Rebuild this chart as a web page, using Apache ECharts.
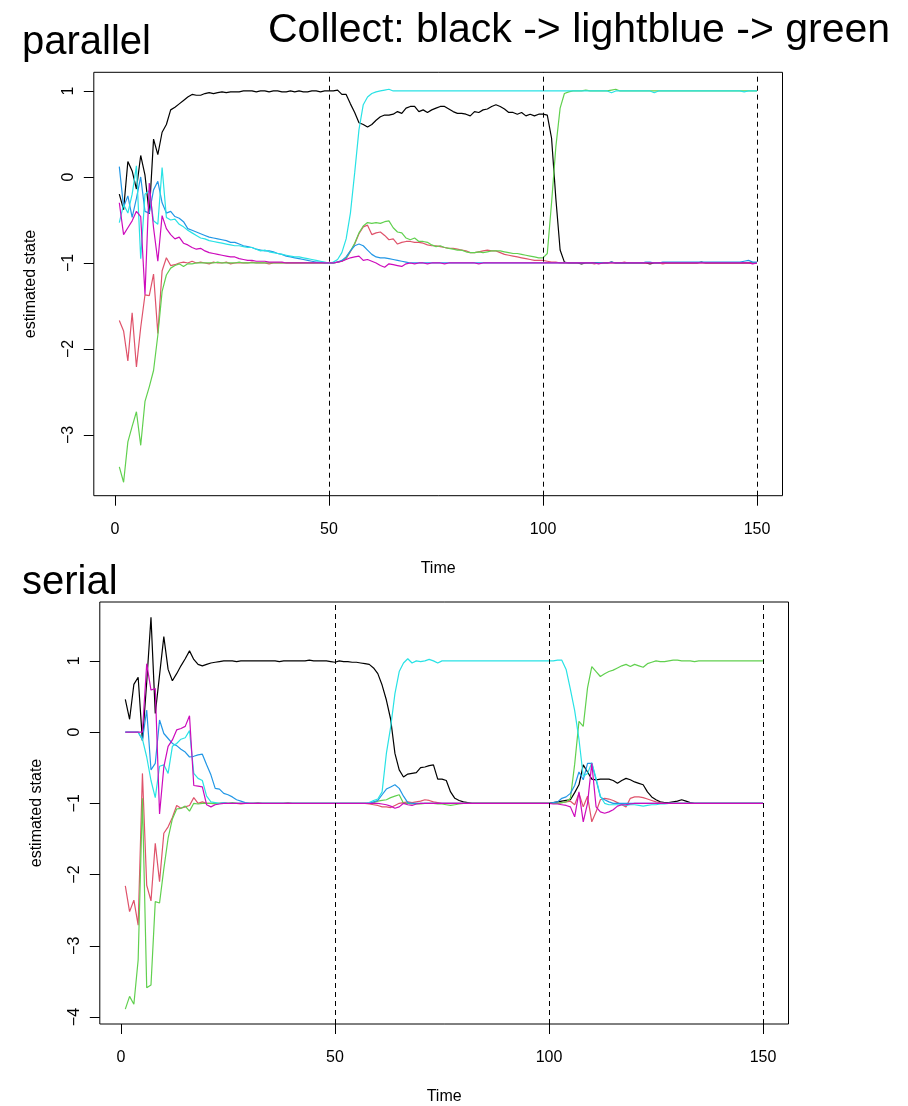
<!DOCTYPE html>
<html>
<head>
<meta charset="utf-8">
<title>estimated state</title>
<script src="https://cdn.jsdelivr.net/npm/echarts@6/dist/echarts.min.js"></script>
<style>
  html, body { margin: 0; padding: 0; background: #ffffff; }
  #chart { width: 908px; height: 1106px; }
</style>
</head>
<body>
<div id="chart"></div>
<script>
// Time index 1..150 shared by both panels
const timeSteps = [];
for (let t = 1; t <= 150; t++) timeSteps.push(t);

const phaseBreaks = [50, 100, 150];
const xTicks = [0, 50, 100, 150];
const yTicksParallel = [-3, -2, -1, 0, 1];
const yTicksSerial = [-4, -3, -2, -1, 0, 1];

const seriesColors = ['#000000', '#DF536B', '#61D04F', '#2297E6', '#28E2E5', '#CD0BBC'];

// ---- parallel collection ----
const parBlack = [
 -0.20,-0.38,0.18,0.07,-0.14,0.25,0.02,-0.43,0.44,0.26,
 0.52,0.61,0.78,0.81,0.85,0.89,0.93,0.96,0.95,0.95,
 0.97,0.98,0.97,0.98,0.99,0.98,0.99,0.99,0.99,1.00,
 1.00,1.00,0.99,1.00,1.00,0.99,1.00,1.00,0.99,0.99,
 1.00,0.99,1.00,0.99,0.99,1.00,1.00,0.99,1.00,1.00,
 1.00,1.01,0.96,0.96,0.85,0.75,0.63,0.61,0.58,0.61,
 0.66,0.70,0.72,0.72,0.73,0.76,0.74,0.80,0.82,0.82,
 0.76,0.78,0.75,0.78,0.80,0.82,0.82,0.79,0.76,0.74,
 0.74,0.73,0.71,0.76,0.75,0.78,0.79,0.82,0.84,0.82,
 0.79,0.75,0.75,0.73,0.75,0.71,0.73,0.71,0.73,0.73,
 0.72,0.45,-0.25,-0.85,-0.99,-1.00,-1.00,-1.00,-1.01,-1.00,
 -1.00,-1.00,-1.00,-1.00,-1.00,-0.99,-1.00,-1.00,-1.00,-1.00,
 -1.00,-1.00,-1.00,-1.00,-1.01,-1.00,-1.00,-1.00,-1.00,-1.00,
 -1.00,-1.00,-1.00,-1.00,-1.00,-1.00,-0.99,-1.00,-1.00,-1.00,
 -1.00,-1.00,-1.00,-1.00,-1.00,-1.00,-1.00,-1.00,-1.00,-1.00
];
const parRed = [
 -1.67,-1.79,-2.14,-1.58,-2.21,-1.75,-1.37,-1.38,-1.13,-1.82,
 -1.09,-0.94,-1.03,-1.02,-1.00,-0.99,-1.00,-0.98,-1.00,-0.99,
 -1.00,-1.01,-0.99,-1.00,-1.00,-0.99,-1.01,-1.00,-1.00,-1.00,
 -1.00,-0.99,-1.00,-1.00,-1.00,-1.01,-1.00,-1.00,-1.00,-1.00,
 -1.00,-1.00,-1.00,-1.00,-1.00,-1.00,-1.00,-1.00,-1.00,-1.00,
 -1.00,-0.99,-0.98,-0.95,-0.87,-0.78,-0.66,-0.58,-0.56,-0.67,
 -0.65,-0.64,-0.68,-0.73,-0.72,-0.78,-0.76,-0.75,-0.75,-0.76,
 -0.76,-0.77,-0.79,-0.80,-0.80,-0.81,-0.82,-0.83,-0.83,-0.84,
 -0.85,-0.86,-0.88,-0.88,-0.87,-0.86,-0.85,-0.86,-0.86,-0.88,
 -0.90,-0.91,-0.92,-0.93,-0.94,-0.95,-0.96,-0.97,-0.97,-0.97,
 -0.98,-0.99,-0.99,-1.00,-1.00,-1.00,-1.00,-1.00,-1.00,-1.00,
 -1.00,-1.01,-1.00,-1.00,-1.00,-1.00,-1.00,-1.00,-0.99,-1.00,
 -1.00,-1.00,-1.00,-1.00,-1.00,-1.00,-1.00,-1.01,-1.00,-1.00,
 -1.00,-1.00,-1.00,-1.00,-1.00,-1.00,-1.00,-1.00,-1.00,-1.00,
 -1.00,-1.00,-1.00,-1.00,-1.00,-1.00,-1.00,-1.00,-1.00,-1.00
];
const parGreen = [
 -3.37,-3.55,-3.08,-2.90,-2.73,-3.12,-2.61,-2.44,-2.25,-1.84,
 -1.33,-1.14,-1.06,-1.03,-1.01,-1.04,-1.01,-1.01,-1.00,-1.00,
 -1.00,-1.00,-1.00,-0.99,-1.00,-1.00,-1.00,-1.00,-0.99,-1.00,
 -1.00,-1.00,-1.00,-1.00,-1.00,-1.00,-1.00,-1.00,-1.00,-1.00,
 -1.00,-1.00,-1.00,-1.00,-1.00,-1.00,-1.00,-1.00,-1.00,-1.00,
 -1.00,-0.99,-0.98,-0.94,-0.86,-0.77,-0.65,-0.57,-0.53,-0.54,
 -0.53,-0.54,-0.52,-0.51,-0.59,-0.64,-0.65,-0.71,-0.73,-0.71,
 -0.75,-0.75,-0.76,-0.79,-0.81,-0.80,-0.82,-0.83,-0.84,-0.85,
 -0.85,-0.87,-0.88,-0.88,-0.87,-0.88,-0.87,-0.86,-0.86,-0.86,
 -0.87,-0.88,-0.89,-0.89,-0.90,-0.91,-0.92,-0.93,-0.94,-0.94,
 -0.89,-0.30,0.35,0.80,0.97,0.99,1.00,1.00,1.00,1.01,
 1.00,1.00,1.00,1.00,1.00,1.01,1.02,1.00,1.00,1.00,
 1.00,1.00,1.00,1.00,1.00,1.00,1.00,1.00,1.00,1.00,
 1.00,1.00,1.00,1.00,1.00,1.00,1.00,1.00,1.00,1.00,
 1.00,1.00,1.00,1.00,1.00,1.00,1.00,1.00,1.00,1.00
];
const parBlue = [
 0.12,-0.35,-0.22,-0.47,-0.25,0.00,-0.40,-0.42,-0.15,-0.05,
 -0.30,-0.42,-0.40,-0.46,-0.48,-0.52,-0.60,-0.62,-0.64,-0.66,
 -0.68,-0.70,-0.71,-0.72,-0.73,-0.74,-0.76,-0.76,-0.78,-0.80,
 -0.81,-0.82,-0.84,-0.85,-0.86,-0.86,-0.87,-0.89,-0.90,-0.92,
 -0.93,-0.94,-0.95,-0.96,-0.97,-0.98,-0.99,-0.99,-1.00,-1.00,
 -1.00,-0.99,-0.97,-0.93,-0.86,-0.80,-0.78,-0.80,-0.85,-0.90,
 -0.93,-0.94,-0.94,-0.95,-0.96,-0.97,-0.98,-0.99,-1.00,-1.00,
 -1.00,-1.00,-1.00,-1.00,-1.00,-1.00,-1.00,-1.00,-1.00,-1.00,
 -1.00,-1.00,-1.00,-1.00,-1.00,-1.00,-1.00,-1.00,-1.00,-1.00,
 -1.00,-1.00,-1.00,-1.00,-1.00,-1.00,-1.00,-1.00,-1.00,-1.00,
 -1.00,-1.00,-1.00,-1.00,-1.00,-1.00,-1.00,-1.00,-1.00,-1.00,
 -1.00,-1.00,-1.00,-1.00,-1.00,-0.99,-1.00,-1.00,-1.00,-1.00,
 -1.00,-1.00,-1.00,-0.99,-0.99,-1.00,-1.00,-0.99,-0.99,-0.99,
 -0.99,-0.99,-0.99,-0.99,-0.99,-0.99,-0.99,-0.99,-0.99,-0.99,
 -0.99,-0.99,-0.99,-0.99,-0.99,-0.99,-0.98,-0.97,-0.99,-0.99
];
const parCyan = [
 -0.53,-0.32,-0.42,-0.20,0.13,-0.95,-0.20,-0.16,-0.51,-0.55,
 0.11,-0.47,-0.50,-0.49,-0.55,-0.58,-0.62,-0.65,-0.68,-0.71,
 -0.72,-0.74,-0.75,-0.76,-0.77,-0.78,-0.79,-0.80,-0.80,-0.81,
 -0.82,-0.82,-0.84,-0.86,-0.85,-0.87,-0.88,-0.89,-0.90,-0.91,
 -0.92,-0.93,-0.93,-0.94,-0.95,-0.96,-0.97,-0.98,-0.99,-1.00,
 -0.99,-0.96,-0.88,-0.72,-0.42,0.05,0.55,0.84,0.93,0.97,
 0.99,1.00,1.01,1.02,1.00,1.00,1.00,1.00,1.00,1.00,
 1.00,1.00,1.00,1.00,1.00,1.00,1.00,1.00,1.00,1.00,
 1.00,1.00,1.00,1.00,1.00,1.00,1.00,1.00,1.00,1.00,
 1.00,1.00,1.00,1.00,1.00,1.00,1.00,1.00,1.00,1.00,
 1.00,1.00,1.00,1.00,1.00,1.00,1.00,1.00,1.00,1.00,
 1.00,1.00,1.00,1.00,1.00,0.98,1.00,1.00,1.00,1.00,
 1.00,1.00,1.00,1.00,1.00,0.98,1.00,1.00,1.00,1.00,
 1.00,1.00,1.00,1.00,1.00,1.00,1.00,1.00,1.00,1.00,
 1.00,1.00,1.00,1.00,1.00,1.00,0.99,1.00,1.00,1.00
];
const parMagenta = [
 -0.30,-0.67,-0.59,-0.51,-0.40,-0.46,-1.37,-0.07,-0.59,-0.98,
 -0.45,-0.60,-0.67,-0.72,-0.70,-0.77,-0.79,-0.82,-0.84,-0.83,
 -0.86,-0.88,-0.89,-0.90,-0.91,-0.92,-0.93,-0.93,-0.95,-0.96,
 -0.97,-0.97,-0.98,-0.98,-0.98,-0.99,-0.99,-0.99,-0.99,-1.00,
 -1.00,-1.00,-1.00,-1.00,-1.00,-1.00,-1.00,-1.00,-1.00,-1.00,
 -1.00,-0.99,-0.98,-0.96,-0.94,-0.93,-0.92,-0.97,-0.96,-0.98,
 -1.00,-1.03,-1.05,-1.01,-1.02,-1.03,-1.04,-1.01,-1.00,-1.01,
 -1.00,-1.00,-1.01,-1.00,-1.00,-1.00,-1.01,-1.00,-1.00,-1.00,
 -1.00,-1.00,-1.00,-1.00,-1.01,-1.00,-1.00,-1.00,-1.00,-1.00,
 -1.00,-1.00,-1.00,-1.00,-1.00,-1.00,-1.00,-1.00,-1.00,-1.00,
 -1.00,-1.00,-1.00,-1.00,-1.00,-1.00,-1.00,-1.00,-1.00,-1.00,
 -1.00,-1.00,-1.01,-1.00,-1.00,-1.00,-1.00,-1.00,-1.00,-1.00,
 -1.00,-1.00,-1.00,-1.00,-1.00,-1.00,-1.00,-1.00,-1.00,-1.00,
 -1.00,-1.00,-1.00,-1.00,-1.00,-1.00,-1.00,-1.00,-1.00,-1.00,
 -1.00,-1.00,-1.00,-1.00,-1.00,-1.00,-1.00,-1.00,-1.01,-1.00
];

// ---- serial collection ----
const serBlack = [
 0.46,0.18,0.67,0.77,-0.12,0.70,1.61,0.26,0.80,1.34,
 0.88,0.72,0.82,0.93,1.03,1.14,1.02,0.95,0.93,0.95,
 0.97,0.98,0.99,1.00,1.00,1.00,0.99,1.00,1.00,1.00,
 1.00,1.00,1.00,1.00,1.00,1.00,0.99,1.00,1.00,1.00,
 1.00,1.00,1.00,1.01,1.00,1.00,1.00,1.00,0.99,0.98,
 1.00,0.99,0.99,0.98,0.98,0.97,0.96,0.95,0.90,0.82,
 0.66,0.45,0.18,-0.30,-0.53,-0.63,-0.59,-0.58,-0.57,-0.50,
 -0.49,-0.47,-0.46,-0.66,-0.66,-0.68,-0.84,-0.93,-0.96,-0.98,
 -0.99,-1.00,-1.00,-1.00,-1.00,-1.00,-1.00,-1.00,-1.00,-1.00,
 -1.00,-1.00,-1.00,-1.00,-1.00,-1.00,-1.00,-1.00,-1.00,-1.00,
 -0.99,-0.98,-0.97,-0.96,-0.95,-0.85,-0.74,-0.46,-0.56,-0.66,
 -0.67,-0.66,-0.66,-0.66,-0.68,-0.72,-0.68,-0.65,-0.67,-0.70,
 -0.72,-0.74,-0.84,-0.91,-0.95,-0.98,-0.99,-0.99,-0.98,-0.97,
 -0.95,-0.97,-0.99,-1.00,-1.00,-1.00,-1.00,-1.00,-1.00,-1.00,
 -1.00,-1.00,-1.00,-1.00,-1.00,-1.00,-1.00,-1.00,-1.00,-1.00
];
const serRed = [
 -2.16,-2.52,-2.36,-2.71,-0.58,-2.15,-2.37,-1.56,-2.10,-1.42,
 -1.33,-1.20,-1.03,-1.07,-1.05,-1.03,-0.92,-1.00,-0.98,-1.00,
 -1.00,-1.01,-1.00,-0.99,-1.00,-1.00,-1.00,-1.01,-1.00,-1.00,
 -1.00,-0.99,-1.00,-1.00,-1.00,-1.00,-1.00,-1.00,-0.99,-1.00,
 -1.00,-1.00,-1.00,-1.00,-1.00,-1.00,-1.00,-1.00,-1.00,-1.00,
 -1.00,-1.00,-1.00,-1.00,-1.00,-1.00,-1.00,-1.01,-1.02,-1.03,
 -1.05,-1.05,-1.06,-1.03,-1.00,-0.99,-0.98,-0.99,-0.98,-0.97,
 -0.95,-0.96,-0.98,-0.99,-1.00,-1.00,-1.00,-1.00,-1.00,-1.00,
 -1.00,-1.00,-1.00,-1.00,-1.00,-1.00,-1.00,-1.00,-1.00,-1.00,
 -1.00,-1.00,-1.00,-1.00,-1.00,-1.00,-1.00,-1.00,-1.00,-1.00,
 -1.00,-1.00,-0.99,-0.98,-0.97,-1.02,-0.86,-1.05,-0.90,-1.26,
 -1.12,-0.95,-0.93,-0.94,-0.96,-0.99,-1.02,-1.05,-0.93,-0.91,
 -0.91,-0.92,-0.94,-0.96,-0.98,-0.99,-1.00,-1.00,-1.00,-1.00,
 -1.00,-1.00,-1.00,-1.00,-1.00,-1.00,-1.00,-1.00,-1.00,-1.00,
 -1.00,-1.00,-1.00,-1.00,-1.00,-1.00,-1.00,-1.00,-1.00,-1.00
];
const serGreen = [
 -3.89,-3.71,-3.82,-3.20,-0.93,-3.59,-3.55,-2.38,-2.40,-1.92,
 -1.49,-1.22,-1.08,-1.07,-1.04,-1.11,-1.00,-1.01,-1.00,-1.00,
 -1.00,-1.00,-1.00,-1.00,-1.00,-0.99,-1.00,-1.00,-1.00,-1.00,
 -1.00,-1.00,-1.00,-1.00,-1.00,-1.00,-1.00,-1.00,-1.00,-1.00,
 -1.00,-1.00,-1.00,-1.00,-1.00,-1.00,-1.00,-1.00,-1.00,-1.00,
 -1.00,-1.00,-1.00,-1.00,-1.00,-1.00,-1.00,-1.00,-0.99,-0.97,
 -0.96,-0.95,-0.92,-0.90,-0.88,-1.00,-1.00,-1.01,-1.01,-1.01,
 -1.00,-1.00,-1.00,-1.01,-1.01,-1.02,-1.03,-1.02,-1.01,-1.00,
 -1.00,-1.00,-1.00,-1.00,-1.00,-1.00,-1.00,-1.00,-1.00,-1.00,
 -1.00,-1.00,-1.00,-1.00,-1.00,-1.00,-1.00,-1.00,-1.00,-1.00,
 -1.00,-1.00,-0.99,-0.98,-0.93,-0.45,0.15,0.08,0.62,0.92,
 0.85,0.78,0.82,0.85,0.87,0.90,0.93,0.95,0.92,0.95,
 0.93,0.91,0.96,0.98,1.00,0.99,0.99,1.00,1.01,1.01,
 1.00,1.00,1.00,0.99,1.00,1.00,1.00,1.00,1.00,1.00,
 1.00,1.00,1.00,1.00,1.00,1.00,1.00,1.00,1.00,1.00
];
const serBlue = [
 0.00,0.00,0.00,0.00,-0.11,0.31,-0.53,-0.44,0.17,-0.02,
 -0.09,-0.16,-0.19,-0.24,-0.28,-0.35,-0.34,-0.32,-0.31,-0.46,
 -0.60,-0.79,-0.80,-0.86,-0.88,-0.91,-0.95,-0.97,-0.99,-1.00,
 -1.00,-1.00,-1.00,-1.00,-1.00,-1.00,-1.00,-1.00,-1.00,-1.00,
 -1.00,-1.00,-1.00,-1.00,-1.00,-1.00,-1.00,-1.00,-1.00,-1.00,
 -1.00,-1.00,-1.00,-1.00,-1.00,-1.00,-1.00,-1.00,-0.98,-0.96,
 -0.88,-0.80,-0.77,-0.74,-0.79,-0.90,-0.99,-1.00,-1.00,-1.00,
 -1.00,-1.00,-1.00,-1.00,-1.00,-1.00,-1.00,-1.00,-1.00,-1.00,
 -1.00,-1.00,-1.00,-1.00,-1.00,-1.00,-1.00,-1.00,-1.00,-1.00,
 -1.00,-1.00,-1.00,-1.00,-1.00,-1.00,-1.00,-1.00,-1.00,-1.00,
 -0.99,-0.98,-0.93,-0.91,-0.86,-0.75,-0.56,-0.67,-0.44,-0.44,
 -0.67,-0.91,-0.95,-0.98,-1.00,-1.00,-1.00,-1.00,-1.00,-1.00,
 -1.00,-1.00,-1.00,-1.00,-1.00,-1.00,-1.00,-1.00,-1.00,-1.00,
 -1.00,-1.00,-1.00,-1.00,-1.00,-1.00,-1.00,-1.00,-1.00,-1.00,
 -1.00,-1.00,-1.00,-1.00,-1.00,-1.00,-1.00,-1.00,-1.00,-1.00
];
const serCyan = [
 0.00,0.00,0.00,0.00,-0.10,-0.35,-0.68,-0.92,-0.48,-0.46,
 -0.58,-0.20,-0.16,-0.10,-0.08,0.02,-0.58,-0.65,-0.68,-0.90,
 -0.98,-0.99,-1.00,-0.99,-1.00,-1.00,-1.00,-1.00,-1.00,-1.00,
 -1.00,-1.00,-1.00,-1.00,-1.00,-1.00,-1.00,-1.00,-1.00,-1.00,
 -1.00,-1.00,-1.00,-1.00,-1.00,-1.00,-1.00,-1.00,-1.00,-1.00,
 -1.00,-1.00,-1.00,-1.00,-1.00,-1.00,-1.00,-0.99,-0.96,-0.94,
 -0.84,-0.30,0.07,0.54,0.85,0.97,1.03,0.97,1.00,0.99,
 1.00,1.02,1.00,0.97,1.00,1.00,1.00,1.00,1.00,1.00,
 1.00,1.00,1.00,1.00,1.00,1.00,1.00,1.00,1.00,1.00,
 1.00,1.00,1.00,1.00,1.00,1.00,1.00,1.00,1.00,1.00,
 1.00,1.01,1.01,0.88,0.60,0.30,-0.10,-0.62,-0.58,-0.43,
 -0.65,-0.90,-1.00,-1.02,-1.02,-1.02,-1.02,-1.03,-1.02,-1.02,
 -1.03,-1.04,-1.03,-1.02,-1.02,-1.01,-1.01,-1.00,-1.00,-1.00,
 -1.00,-1.00,-1.00,-1.00,-1.00,-1.00,-1.00,-1.00,-1.00,-1.00,
 -1.00,-1.00,-1.00,-1.00,-1.00,-1.00,-1.00,-1.00,-1.00,-1.00
];
const serMagenta = [
 0.00,0.00,0.00,0.00,0.00,0.96,0.59,0.61,-1.15,-0.49,
 -0.20,-0.11,0.03,0.05,0.08,0.23,-0.75,-0.76,-0.77,-1.02,
 -1.05,-1.02,-1.01,-1.00,-1.00,-1.00,-1.00,-1.00,-1.00,-1.00,
 -1.00,-1.00,-1.00,-1.00,-1.00,-1.00,-1.00,-1.00,-1.00,-1.00,
 -1.00,-1.00,-1.00,-1.00,-1.00,-1.00,-1.00,-1.00,-1.00,-1.00,
 -1.00,-1.00,-1.00,-1.00,-1.00,-1.00,-1.00,-1.00,-1.00,-1.00,
 -1.01,-1.02,-1.04,-1.07,-1.05,-1.00,-1.02,-1.03,-1.01,-1.00,
 -1.00,-1.00,-1.00,-1.00,-1.00,-1.00,-1.00,-1.00,-1.00,-1.00,
 -1.00,-1.00,-1.00,-1.00,-1.00,-1.00,-1.00,-1.00,-1.00,-1.00,
 -1.00,-1.00,-1.00,-1.00,-1.00,-1.00,-1.00,-1.00,-1.00,-1.00,
 -1.01,-1.01,-1.02,-1.03,-1.05,-1.19,-0.84,-1.26,-1.00,-0.44,
 -1.05,-1.12,-1.14,-1.12,-1.09,-1.04,-1.02,-1.02,-1.01,-1.00,
 -1.00,-1.00,-1.00,-1.00,-1.00,-1.00,-1.00,-1.00,-1.00,-1.00,
 -1.00,-1.00,-1.00,-1.00,-1.00,-1.00,-1.00,-1.00,-1.00,-1.00,
 -1.00,-1.00,-1.00,-1.00,-1.00,-1.00,-1.00,-1.00,-1.00,-1.00
];

const parallelSet = [parBlack, parRed, parGreen, parBlue, parCyan, parMagenta];
const serialSet = [serBlack, serRed, serGreen, serBlue, serCyan, serMagenta];

const FONT = '"Liberation Sans", Arial, Helvetica, sans-serif';
const minusFmt = v => String(v).replace('-', '\u2212');

function xAxisFor(gridIndex) {
  return {
    type: 'value', gridIndex: gridIndex,
    min: -4.96, max: 155.96,
    name: 'Time', nameLocation: 'middle', nameGap: 65,
    nameTextStyle: { fontFamily: FONT, fontSize: 16, color: '#000' },
    axisLine: { show: false, onZero: false },
    axisTick: { show: true, inside: false, length: 10, customValues: xTicks,
                lineStyle: { color: '#000', width: 1 } },
    axisLabel: { show: true, customValues: xTicks, margin: 26,
                 fontFamily: FONT, fontSize: 16, color: '#000' },
    splitLine: { show: false }
  };
}

function yAxisFor(gridIndex, min, max, ticks) {
  return {
    type: 'value', gridIndex: gridIndex,
    min: min, max: max,
    name: 'estimated state', nameLocation: 'middle', nameRotate: 90, nameGap: 55,
    nameTextStyle: { fontFamily: FONT, fontSize: 16, color: '#000' },
    axisLine: { show: false, onZero: false },
    axisTick: { show: true, inside: false, length: 10, customValues: ticks,
                lineStyle: { color: '#000', width: 1 } },
    axisLabel: { show: true, customValues: ticks, rotate: 90, margin: 17,
                 align: 'center', verticalAlign: 'bottom',
                 fontFamily: FONT, fontSize: 16, color: '#000',
                 formatter: minusFmt },
    splitLine: { show: false }
  };
}

function buildSeries(set, axisIndex) {
  return set.map((vals, i) => {
    const s = {
      type: 'line',
      xAxisIndex: axisIndex, yAxisIndex: axisIndex,
      data: vals.map((v, k) => [timeSteps[k], v]),
      showSymbol: false,
      symbol: 'none',
      lineStyle: { color: seriesColors[i], width: 1.2 },
      itemStyle: { color: seriesColors[i] },
      animation: false,
      silent: true
    };
    if (i === set.length - 1) {
      s.markLine = {
        silent: true, symbol: 'none', animation: false,
        label: { show: false },
        lineStyle: { color: '#000', width: 1, type: [5, 4] },
        data: phaseBreaks.map(b => ({ xAxis: b }))
      };
    }
    return s;
  });
}

const chart = echarts.init(document.getElementById('chart'), null, { renderer: 'canvas' });
chart.setOption({
  backgroundColor: '#ffffff',
  animation: false,
  title: [
    { text: 'parallel', left: 22, top: 23, padding: 0,
      textStyle: { fontFamily: FONT, fontSize: 40, fontWeight: 'normal', color: '#000' } },
    { text: 'Collect: black -> lightblue -> green', left: 268, top: 10, padding: 0,
      textStyle: { fontFamily: FONT, fontSize: 41, fontWeight: 'normal', color: '#000' } },
    { text: 'serial', left: 22, top: 563, padding: 0,
      textStyle: { fontFamily: FONT, fontSize: 40, fontWeight: 'normal', color: '#000' } }
  ],
  grid: [
    { left: 93.8, top: 72.3, width: 688.7, height: 423.4, show: true,
      borderColor: '#000', borderWidth: 1, backgroundColor: 'transparent' },
    { left: 99.8, top: 602, width: 688.7, height: 423, show: true,
      borderColor: '#000', borderWidth: 1, backgroundColor: 'transparent' }
  ],
  xAxis: [xAxisFor(0), xAxisFor(1)],
  yAxis: [
    yAxisFor(0, -3.706, 1.217, yTicksParallel),
    yAxisFor(1, -4.098, 1.826, yTicksSerial)
  ],
  series: buildSeries(parallelSet, 0).concat(buildSeries(serialSet, 1))
});
</script>
</body>
</html>
